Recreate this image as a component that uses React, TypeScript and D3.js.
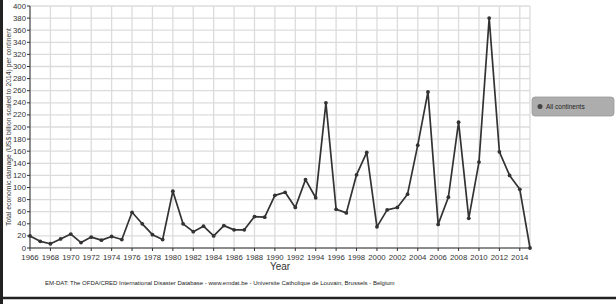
import React from "react";
import * as d3 from "d3";

const years = d3.range(1966, 2016);
const damage = [
  20, 11, 7, 15, 23, 9, 18, 13, 19, 14,
  59, 40, 22, 14, 94, 40, 27, 36, 20, 37,
  30, 30, 52, 51, 87, 92, 67, 113, 83, 240,
  64, 58, 121, 158, 35, 63, 67, 89, 170, 258,
  39, 84, 208, 49, 142, 380, 159, 120, 97, 0,
];
const xTicks = d3.range(1966, 2015, 2);
const yTicks = d3.range(0, 401, 20);
const seriesName = "All continents";
const footer =
  "EM-DAT: The OFDA/CRED International Disaster Database - www.emdat.be - Universite Catholique de Louvain, Brussels - Belgium";

const W = 616;
const H = 304;
const margin = { top: 6, right: 86, bottom: 56, left: 30 };
const font = "'Liberation Sans', Arial, sans-serif";

export default function App() {
  const x = d3
    .scaleLinear()
    .domain([1966, 2015])
    .range([margin.left, W - margin.right]);
  const y = d3
    .scaleLinear()
    .domain([0, 400])
    .range([H - margin.bottom, margin.top]);

  const data = years.map((yr, i) => ({ yr, v: damage[i] }));
  const line = d3
    .line<{ yr: number; v: number }>()
    .x((d) => x(d.yr))
    .y((d) => y(d.v));

  const x0 = x.range()[0];
  const x1 = x.range()[1];
  const y0 = y.range()[0];
  const y1 = y.range()[1];

  return (
    <svg
      width={W}
      height={H}
      style={{ position: "absolute", left: 0, top: 0, background: "#fff" }}
      fontFamily={font}
    >
      {/* grid */}
      <g stroke="#dcdcdc" strokeWidth={1.3}>
        {yTicks.map((t) => (
          <line key={"h" + t} x1={x0} x2={x1} y1={y(t)} y2={y(t)} />
        ))}
        {xTicks.map((t) => (
          <line key={"v" + t} x1={x(t)} x2={x(t)} y1={y0} y2={y1} />
        ))}
        <line x1={x1} x2={x1} y1={y0} y2={y1} />
      </g>

      {/* axes */}
      <g stroke="#333" strokeWidth={1}>
        <line x1={x0} x2={x0} y1={y0} y2={y1} />
        <line x1={x0} x2={x1} y1={y0} y2={y0} />
        {yTicks.map((t) => (
          <line key={"yt" + t} x1={x0 - 3} x2={x0} y1={y(t)} y2={y(t)} />
        ))}
        {xTicks.map((t) => (
          <line key={"xt" + t} x1={x(t)} x2={x(t)} y1={y0} y2={y0 + 3} />
        ))}
      </g>
      <g fontSize={7.8} fill="#333">
        {yTicks.map((t) => (
          <text
            key={"yl" + t}
            x={x0 - 4}
            y={y(t)}
            textAnchor="end"
            dominantBaseline="central"
          >
            {t}
          </text>
        ))}
        {xTicks.map((t) => (
          <text key={"xl" + t} x={x(t)} y={y0 + 12} textAnchor="middle">
            {t}
          </text>
        ))}
      </g>
      <text
        x={(x0 + x1) / 2}
        y={y0 + 22}
        textAnchor="middle"
        fontSize={10}
        fill="#333"
      >
        Year
      </text>
      <text
        transform={`translate(11,${(y0 + y1) / 2}) rotate(-90)`}
        textAnchor="middle"
        fontSize={6.8}
        fill="#333"
      >
        Total economic damage (US$ billion scaled to 2014) per continent
      </text>

      {/* series */}
      <path
        d={line(data) || ""}
        fill="none"
        stroke="#333"
        strokeWidth={1.7}
        strokeLinejoin="round"
      />
      <g fill="#333">
        {data.map((d) => (
          <circle key={d.yr} cx={x(d.yr)} cy={y(d.v)} r={1.9} />
        ))}
      </g>

      {/* legend */}
      <rect
        x={532}
        y={97}
        width={82}
        height={19}
        rx={3}
        fill="#adadad"
        stroke="#999"
        strokeWidth={0.8}
      />
      <circle cx={540} cy={106.5} r={2.5} fill="#444" />
      <text x={546} y={106.5} dominantBaseline="central" fontSize={6.5} fill="#222">
        {seriesName}
      </text>

      {/* footer */}
      <text x={45} y={285} fontSize={6} fill="#222">
        {footer}
      </text>

      {/* frame */}
      <line x1={1.5} x2={1.5} y1={0} y2={H} stroke="#222" strokeWidth={3} />
      <line x1={0} x2={W} y1={H - 6} y2={H - 6} stroke="#222" strokeWidth={2.5} />
    </svg>
  );
}
